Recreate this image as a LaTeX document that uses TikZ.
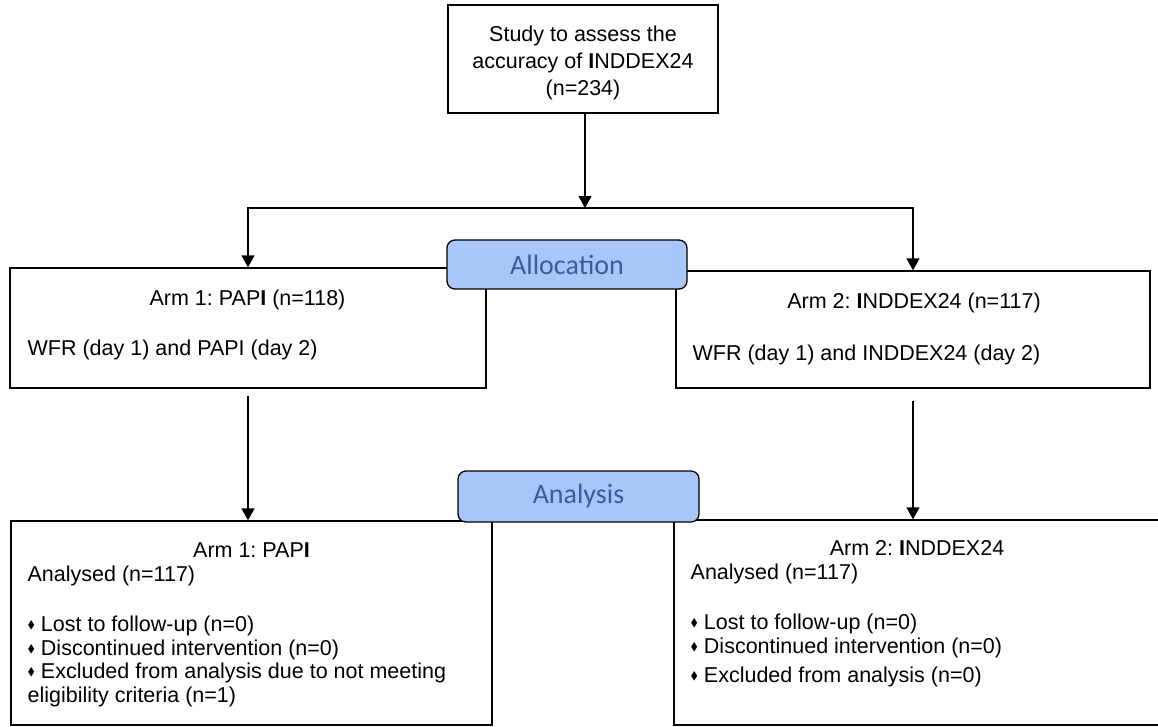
\documentclass[tikz,border=0pt]{standalone}
\usepackage{amssymb}
\usepackage{fontspec}
\setmainfont{Liberation Sans}
\newfontfamily\calfont{Carlito}
\usetikzlibrary{arrows.meta,positioning}
\definecolor{phasefill}{HTML}{A9C6F9}
\definecolor{phasetext}{HTML}{3D5B9C}
\frenchspacing
\providecommand{\bul}{\raisebox{3pt}{\fontsize{11}{11}\selectfont$\blacklozenge$}\ }
\tikzstyle{block} = [draw, rectangle, inner sep=0pt]
\tikzstyle{phase} = [draw, fill=phasefill, rectangle, rounded corners=8pt, inner sep=0pt, text=phasetext, font={\calfont\fontsize{28}{30}\selectfont}]
\tikzstyle{txt} = [inner sep=0pt, align=left, font={\fontsize{21.5}{23.5}\selectfont}]

\begin{document}
\begin{tikzpicture}[x=1pt, y=-1pt, line width=1.3pt, >={Triangle[length=12pt,width=13pt]}]
    \useasboundingbox (0,0) rectangle (1158,726);
    \node [block, minimum width=270pt, minimum height=108pt] (study) at (583,59) {};
    \node [block, minimum width=476pt, minimum height=120pt] (arm1) at (248,328) {};
    \node [block, minimum width=474pt, minimum height=117pt] (arm2) at (913,329.5) {};
    \node [block, minimum width=481pt, minimum height=204pt] (res1) at (251.5,623) {};
    \node [block, minimum width=486pt, minimum height=205pt] (res2) at (917,622.5) {};

    % phase labels sit on top of the boxes
    \node [phase, minimum width=240pt, minimum height=49pt] (alloc) at (567,264.5) {Allocation};
    \node [phase, minimum width=241pt, minimum height=51pt] (anal) at (578.5,496.5) {Analysis};

    % box texts (multi-line ones are anchored on their last line)
    \node [txt, align=center, anchor=base, font={\fontsize{21.5}{27}\selectfont}] (studyt) at (583,95) {Study to assess the\\ accuracy of \textbf{I}NDDEX24\\ (n=234)};
    \node [txt, anchor=base] (arm1t) at (247.5,305) {Arm 1: PAP\textbf{I} (n=118)};
    \node [txt, anchor=base west] (arm1b) at (27,355) {WFR (day 1) and PAPI (day 2)};
    \node [txt, anchor=base] (arm2t) at (914,308) {Arm 2: \textbf{I}NDDEX24 (n=117)};
    \node [txt, anchor=base west] (arm2b) at (692,360) {WFR (day 1) and INDDEX24 (day 2)};
    \node [txt, anchor=base] (res1t) at (251.5,557) {Arm 1: PAP\textbf{I}};
    \node [txt, anchor=base west] (res1b) at (27,702) {Analysed (n=117)\\[26.5pt]
        \bul Lost to follow-up (n=0)\\
        \bul Discontinued intervention (n=0)\\
        \bul Excluded from analysis due to not meeting\\
        eligibility criteria (n=1)};
    \node [txt, anchor=base] (res2t) at (917,555) {Arm 2: \textbf{I}NDDEX24};
    \node [txt, anchor=base west] (res2b) at (690,682) {Analysed (n=117)\\[26.5pt]
        \bul Lost to follow-up (n=0)\\
        \bul Discontinued intervention (n=0)\\[5.5pt]
        \bul Excluded from analysis (n=0)};

    % connectors
    \coordinate (split) at (585,208);
    \draw [->] (study.south -| split) -- (split);
    \draw [->] (split) -| (arm1.north);
    \draw [->] (split) -| (arm2.north);
    \draw [->, shorten <=7pt] (arm1.south) -- (arm1.south |- res1.north);
    \draw [->, shorten <=12pt] (arm2.south) -- (arm2.south |- res2.north);
\end{tikzpicture}
\end{document}
